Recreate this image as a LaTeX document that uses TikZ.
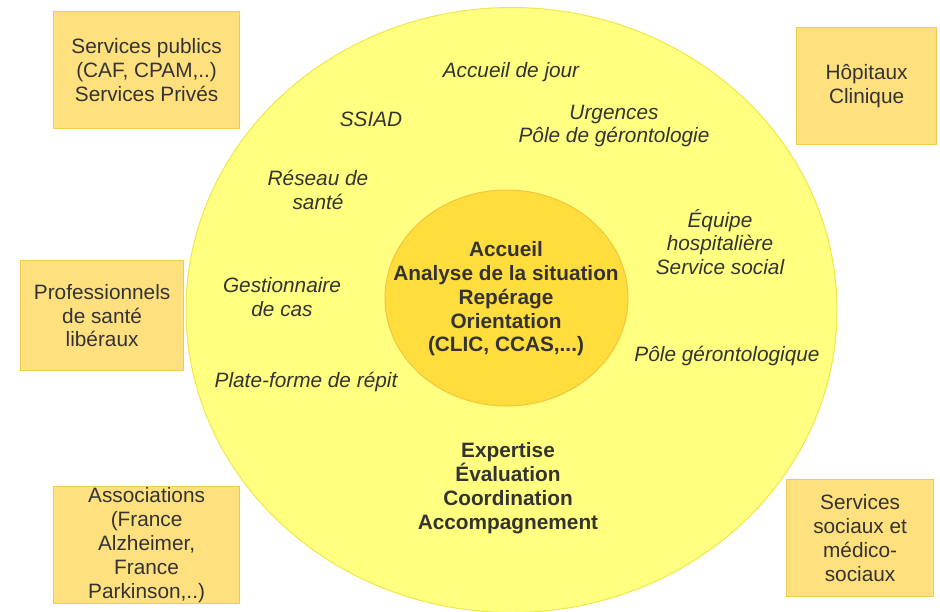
\documentclass[tikz,border=0pt]{standalone}
\usepackage{fontspec}
\setmainfont{Liberation Sans}
\usetikzlibrary{shapes.geometric}
\definecolor{ringfill}{HTML}{FFFF80}
\definecolor{ringline}{HTML}{F0E64A}
\definecolor{corefill}{HTML}{FFDD3C}
\definecolor{coreline}{HTML}{F2C53A}
\definecolor{boxfill}{HTML}{FFE07F}
\definecolor{boxline}{HTML}{F4CC4C}
\definecolor{ink}{HTML}{333333}
\tikzset{
  txt/.style={font=\fontsize{20.8}{23.8}\selectfont, text=ink, align=center, inner sep=0pt},
  partner/.style={txt, draw=boxline, fill=boxfill, line width=1.2pt, anchor=north west},
  actor/.style={txt, font=\fontsize{20.8}{23.8}\selectfont\itshape},
  mission/.style={txt, font=\fontsize{20.8}{23.8}\selectfont\bfseries},
  ring/.style={ellipse, draw=ringline, fill=ringfill, line width=1pt, inner sep=0pt},
  core/.style={ellipse, draw=coreline, fill=corefill, line width=1pt, inner sep=0pt}
}
\begin{document}
\begin{tikzpicture}[x=1pt, y=-1pt]
\useasboundingbox (0,0) rectangle (940,611);

% outer ring of partners and inner core
\node[ring, minimum width=651, minimum height=605] (outer) at (511.5,310) {};
\node[core, minimum width=243, minimum height=216] (inner) at (506.5,298) {};

% partner boxes around the ring
\node[partner, minimum width=186, minimum height=117] (publics) at (53,11)
  {Services publics\\(CAF, CPAM,..)\\Services Privés};
\node[partner, minimum width=163, minimum height=110] (liberaux) at (20,260)
  {Professionnels\\de santé\\libéraux};
\node[partner, minimum width=186, minimum height=117] (assoc) at (53,486)
  {Associations\\(France\\Alzheimer,\\France\\Parkinson,..)};
\node[partner, minimum width=140, minimum height=117] (hopitaux) at (796,27)
  {Hôpitaux\\Clinique};
\node[partner, minimum width=147, minimum height=117] (sociaux) at (786,479)
  {Services\\sociaux et\\médico-\\sociaux};

% actors in the ring
\node[actor] (jour) at (511,72) {Accueil de jour};
\node[actor] (ssiad) at (371,119) {SSIAD};
\node[actor] (urgences) at (614,126) {Urgences\\Pôle de gérontologie};
\node[actor] (reseau) at (318,190) {Réseau de\\santé};
\node[actor] (equipe) at (720,242) {Équipe\\hospitalière\\Service social};
\node[actor] (gestion) at (282,297) {Gestionnaire\\de cas};
\node[actor] (repit) at (306,382) {Plate-forme de répit};
\node[actor] (pole) at (727,356) {Pôle gérontologique};

% missions
\node[mission] (accueil) at (506,299)
  {Accueil\\Analyse de la situation\\Repérage\\Orientation\\(CLIC, CCAS,...)};
\node[mission] (expertise) at (508,488)
  {Expertise\\Évaluation\\Coordination\\Accompagnement};
\end{tikzpicture}
\end{document}
